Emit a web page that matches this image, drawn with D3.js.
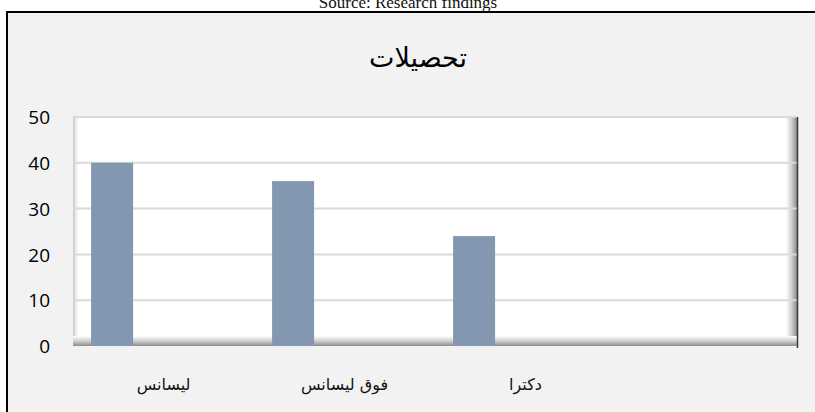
<!DOCTYPE html>
<html>
<head>
<meta charset="utf-8">
<script src="https://cdn.jsdelivr.net/npm/d3@7"></script>
<style>
  html, body { margin: 0; padding: 0; background: #ffffff; }
  svg { display: block; }
  .tick-text { font-family: "Open Sans", "Noto Sans", sans-serif; font-size: 19px; fill: #000; }
  .cat-text { font-family: "DejaVu Serif", "DejaVu Sans", serif; font-size: 16px; fill: #111; }
  .title-text { font-family: "DejaVu Serif", "DejaVu Sans", serif; font-size: 27px; fill: #000; }
  .source-text { font-family: "Liberation Serif", "Times New Roman", serif; font-size: 17px; fill: #111; }
</style>
</head>
<body>
<div id="chart"></div>
<script>
const CATEGORIES = ["لیسانس", "فوق لیسانس", "دکترا"];
const VALUES = [40, 36, 24];
const Y_TICKS = [0, 10, 20, 30, 40, 50];
const CHART_TITLE = "تحصیلات";
const SOURCE_NOTE = "Source: Research findings";

function renderEducationChart() {
  const width = 815;
  const height = 412;
  const plot = { left: 73, right: 797, top: 117, bottom: 346 };

  const svg = d3.select("#chart").append("svg").attr("width", width).attr("height", height);
  const defs = svg.append("defs");

  const addGradient = (id, x2, y2, stops) => {
    const g = defs.append("linearGradient").attr("id", id)
      .attr("x1", 0).attr("y1", 0).attr("x2", x2).attr("y2", y2);
    stops.forEach(([offset, color]) => g.append("stop").attr("offset", offset).attr("stop-color", color));
  };
  addGradient("wall-left", 1, 0, [[0, "#c4c4c4"], [0.5, "#ececec"], [1, "#ffffff"]]);
  addGradient("wall-right", 1, 0, [[0, "#ffffff"], [0.5, "#d0d0d0"], [1, "#8c8c8c"]]);
  addGradient("floor", 0, 1, [[0, "#ffffff"], [0.5, "#cfcfcf"], [1, "#8c8c8c"]]);

  // chart area background and frame
  svg.append("rect").attr("x", 0).attr("y", 0).attr("width", width).attr("height", height).attr("fill", "#ffffff");
  svg.append("rect").attr("x", 7).attr("y", 12).attr("width", width + 20).attr("height", height + 20)
    .attr("fill", "#f2f2f2").attr("stroke", "#000").attr("stroke-width", 2);

  svg.append("text").attr("class", "source-text")
    .attr("x", 408).attr("y", 8).attr("text-anchor", "middle").text(SOURCE_NOTE);

  svg.append("text").attr("class", "title-text")
    .attr("x", 418).attr("y", 67).attr("text-anchor", "middle").text(CHART_TITLE);

  const x = d3.scaleBand()
    .domain([...CATEGORIES, ""])
    .range([plot.left, plot.right])
    .paddingInner(0)
    .paddingOuter(0);

  const y = d3.scaleLinear()
    .domain([0, 50])
    .range([plot.bottom, plot.top]);

  // plot area
  svg.append("rect").attr("x", plot.left).attr("y", plot.top)
    .attr("width", plot.right - plot.left).attr("height", plot.bottom - plot.top)
    .attr("fill", "#ffffff");
  svg.append("rect").attr("x", plot.left).attr("y", plot.top)
    .attr("width", 6).attr("height", plot.bottom - plot.top).attr("fill", "url(#wall-left)");
  svg.append("rect").attr("x", plot.right - 11).attr("y", plot.top)
    .attr("width", 11).attr("height", plot.bottom - plot.top).attr("fill", "url(#wall-right)");
  svg.append("rect").attr("x", plot.left).attr("y", plot.bottom - 10)
    .attr("width", plot.right - plot.left).attr("height", 10).attr("fill", "url(#floor)");

  // gridlines
  svg.append("g")
    .selectAll("line")
    .data(Y_TICKS.filter((d) => d > 0))
    .join("line")
    .attr("x1", plot.left)
    .attr("x2", plot.right)
    .attr("y1", (d) => y(d))
    .attr("y2", (d) => y(d))
    .attr("stroke", "#d9d9d9")
    .attr("stroke-width", 2);

  svg.append("line")
    .attr("x1", plot.right + 0.5).attr("x2", plot.right + 0.5)
    .attr("y1", plot.top).attr("y2", plot.bottom + 2)
    .attr("stroke", "#3a3a3a").attr("stroke-width", 1.5);

  // y axis labels
  svg.append("g")
    .attr("transform", `translate(${plot.left - 23}, 0)`)
    .call(d3.axisLeft(y).tickValues(Y_TICKS).tickSize(0).tickPadding(0))
    .call((g) => g.select(".domain").remove())
    .call((g) => g.selectAll("text").attr("class", "tick-text").attr("dy", "0.35em"));

  // bars
  const barOffset = x.bandwidth() * 0.1;
  const barWidth = x.bandwidth() * 0.232;
  svg.append("g")
    .selectAll("rect")
    .data(CATEGORIES.map((c, i) => ({ category: c, value: VALUES[i] })))
    .join("rect")
    .attr("x", (d) => x(d.category) + barOffset)
    .attr("width", barWidth)
    .attr("y", (d) => y(d.value))
    .attr("height", (d) => y(0) - y(d.value))
    .attr("fill", "#8497b0");

  // category labels
  svg.append("g")
    .attr("transform", `translate(0, ${plot.bottom})`)
    .call(d3.axisBottom(x).tickValues(CATEGORIES).tickSize(0).tickPadding(0))
    .call((g) => g.select(".domain").remove())
    .call((g) => g.selectAll("text").attr("class", "cat-text").attr("dy", "0").attr("y", 44));
}

renderEducationChart();
</script>
</body>
</html>
